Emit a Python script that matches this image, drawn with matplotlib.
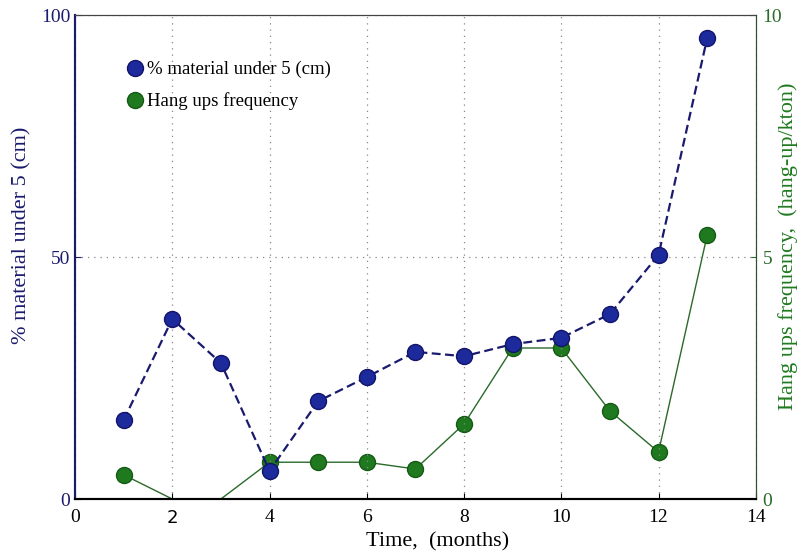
import matplotlib
matplotlib.use("Agg")
import matplotlib.pyplot as plt
from matplotlib.lines import Line2D

plt.rcParams['font.family'] = ['Liberation Serif', 'DejaVu Serif']

months = [1, 2, 3, 4, 5, 6, 7, 8, 9, 10, 11, 12, 13]
pct_under_5cm = [16.3, 37.2, 28.1, 5.8, 20.2, 25.2, 30.4, 29.5, 32.0, 33.3, 38.2, 50.4, 95.2]
hangup_freq = [0.5, 0.0, 0.0, 0.76, 0.76, 0.76, 0.62, 1.55, 3.12, 3.12, 1.82, 0.97, 5.45]

x_ticks = [0, 2, 4, 6, 8, 10, 12, 14]
left_ticks = [0, 50, 100]
right_ticks = [0, 5, 10]

navy = '#1a1a6e'
blue_face = '#1c2a9c'
green_face = '#1f7a1f'
green_dark = '#2a6a2a'

fig = plt.figure(figsize=(7.99, 5.56), dpi=100)
ax = fig.add_axes([0.0939, 0.1025, 0.852, 0.8705])
ax2 = ax.twinx()

# green series on the secondary axis, markers hidden where the value sits on zero
shown = [i for i, v in enumerate(hangup_freq) if v > 0]
ax2.plot(months, hangup_freq, color=green_dark, lw=1.0, marker='o', ms=11.5,
         mfc=green_face, mec='#145a14', markevery=shown, zorder=2)
ax2.set_ylim(0, 10)
ax2.set_yticks(right_ticks)

ax.set_zorder(ax2.get_zorder() + 1)
ax.patch.set_visible(False)
ax.plot(months, pct_under_5cm, color=navy, lw=1.6, ls=(0, (4, 2)), marker='o', ms=11.5,
        mfc=blue_face, mec='#14146a', zorder=3)
ax.set_xlim(0, 14)
ax.set_ylim(0, 100)
ax.set_xticks(x_ticks)
ax.set_yticks(left_ticks)

ax.grid(True, ls=(0, (1, 4)), color='#888888', lw=0.9)

ax.tick_params(axis='both', direction='in', length=4, labelsize=14)
ax.tick_params(axis='x', pad=7)
ax.tick_params(axis='y', colors=navy, labelcolor=navy)
ax.tick_params(axis='x', colors='black')
ax2.tick_params(axis='y', direction='in', length=4, labelsize=14, colors=green_dark, pad=5)

# the "2" tick label is set in a sans face
for lbl in ax.get_xticklabels():
    if lbl.get_text() == '2':
        lbl.set_fontfamily('DejaVu Sans')
        lbl.set_fontsize(13)

for a in (ax, ax2):
    a.spines['left'].set_color(navy)
    a.spines['right'].set_color('#2f4f2f')
    a.spines['top'].set_color('#444444')
    a.spines['bottom'].set_color('black')
    a.spines['left'].set_linewidth(1.5)
    a.spines['bottom'].set_linewidth(1.5)

ax.set_xlabel('Time,  (months)', fontsize=16)
ax.xaxis.set_label_coords(0.532, -0.068)
ax.set_ylabel('% material under 5 (cm)', fontsize=16, color=navy)
ax.yaxis.set_label_coords(-0.064, 0.545)
ax2.set_ylabel('Hang ups frequency,  (hang-up/kton)', fontsize=16, color=green_face)
ax2.yaxis.set_label_coords(1.033, 0.523)

handles = [
    Line2D([], [], ls='none', marker='o', ms=11.5, mfc=blue_face, mec='#14146a'),
    Line2D([], [], ls='none', marker='o', ms=11.5, mfc=green_face, mec='#145a14'),
]
ax.legend(handles, ['% material under 5 (cm)', 'Hang ups frequency'], loc='upper left',
          bbox_to_anchor=(0.053, 0.94), frameon=False, fontsize=13.5,
          handlelength=0.8, handletextpad=0.2, labelspacing=0.75)

fig.savefig('out.png', dpi=100)
